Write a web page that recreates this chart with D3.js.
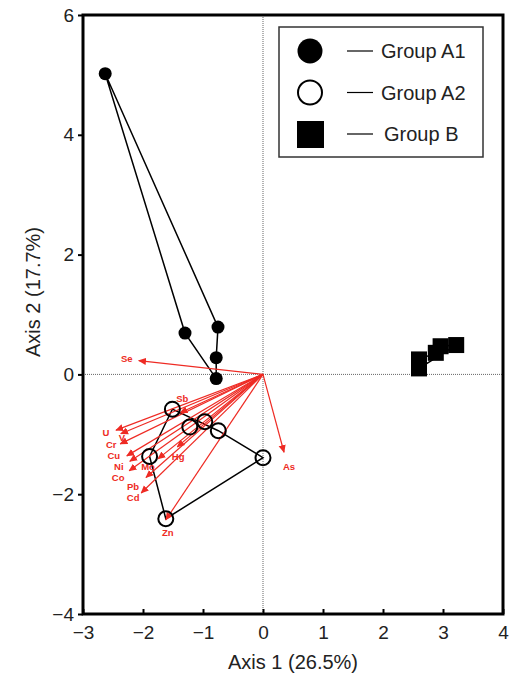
<!DOCTYPE html>
<html>
<head>
<meta charset="utf-8">
<script src="https://cdn.jsdelivr.net/npm/d3@7"></script>
<style>
  body { margin: 0; background: #fff; }
  svg text { font-family: "Liberation Sans", Arial, sans-serif; }
</style>
</head>
<body>
<svg id="chart" width="510" height="676"></svg>
<script>
// DATA ---------------------------------------------------------------------------------------------
var xTicks = [-3, -2, -1, 0, 1, 2, 3, 4];
var yTicks = [-4, -2, 0, 2, 4, 6];

// Group A1 (filled circles), hull order
var groupA1X = [-2.63, -0.75, -0.78, -0.78, -1.30];
var groupA1Y = [ 5.02,  0.79,  0.28, -0.07,  0.69];

// Group A2 (open circles), hull order first, inner points last
var groupA2X = [-1.51, -0.745, 0.00, -1.62, -1.89, -0.97, -1.22];
var groupA2Y = [-0.58, -0.94, -1.39, -2.41, -1.37, -0.79, -0.88];
var groupA2Hull = 5;

// Group B (squares)
var groupBX = [2.60, 2.60, 2.88, 2.96, 3.22];
var groupBY = [0.10, 0.25, 0.36, 0.47, 0.49];

// Variable vectors (arrow tips)
var varNames = ["Se", "Sb", "U", "V", "Cr", "Cu", "Ni", "Co", "Mo", "Pb", "Cd", "Hg", "Zn", "As"];
var varX = [-2.07, -1.38, -2.45, -2.37, -2.38, -2.27, -2.22, -2.23, -1.75, -1.95, -2.03, -1.43, -1.62, 0.35];
var varY = [ 0.23, -0.64, -0.93, -0.99, -1.16, -1.36, -1.45, -1.61, -1.41, -1.72, -1.98, -1.21, -2.43, -1.30];

var legendLabels = ["Group A1", "Group A2", "Group B"];

// SETUP --------------------------------------------------------------------------------------------
var svg = d3.select("#chart");
var red = "#ee2b24";

var x = d3.scaleLinear().domain([-3, 4]).range([83, 503]);
var y = d3.scaleLinear().domain([-4, 6]).range([614, 15]);

// dotted zero lines
svg.append("line")
  .attr("x1", x(0)).attr("x2", x(0)).attr("y1", y(6)).attr("y2", y(-4))
  .attr("stroke", "#666").attr("stroke-width", 1).attr("stroke-dasharray", "1,1");
svg.append("line")
  .attr("x1", x(-3)).attr("x2", x(4)).attr("y1", y(0)).attr("y2", y(0))
  .attr("stroke", "#666").attr("stroke-width", 1).attr("stroke-dasharray", "1,1");

// axes
var xAxis = d3.axisBottom(x).tickValues(xTicks).tickSizeInner(-5).tickSizeOuter(0).tickPadding(12)
  .tickFormat(function(d) { return d < 0 ? "\u2212" + Math.abs(d) : d; });
var yAxis = d3.axisLeft(y).tickValues(yTicks).tickSizeInner(5).tickSizeOuter(0).tickPadding(4)
  .tickFormat(function(d) { return d < 0 ? "\u2212" + Math.abs(d) : d; });

var gx = svg.append("g").attr("transform", "translate(0," + y(-4) + ")").call(xAxis);
var gy = svg.append("g").attr("transform", "translate(" + x(-3) + ",0)").call(yAxis);
[gx, gy].forEach(function(g) {
  g.select(".domain").remove();
  g.selectAll(".tick line").attr("stroke", "#000").attr("stroke-width", 2);
  g.selectAll(".tick text").attr("fill", "#222").style("font-size", "19px");
});

// frame
svg.append("rect")
  .attr("x", x(-3)).attr("y", y(6))
  .attr("width", x(4) - x(-3)).attr("height", y(-4) - y(6))
  .attr("fill", "none").attr("stroke", "#000").attr("stroke-width", 3);

// axis titles
svg.append("text")
  .attr("x", (x(-3) + x(4)) / 2).attr("y", 669)
  .attr("text-anchor", "middle").attr("fill", "#222").style("font-size", "20px")
  .text("Axis 1 (26.5%)");
svg.append("text")
  .attr("transform", "translate(40,292) rotate(-90)")
  .attr("text-anchor", "middle").attr("fill", "#222").style("font-size", "20px")
  .text("Axis 2 (17.7%)");

// HULLS ------------------------------------------------------------------------------------------
function hullPath(xs, ys, n) {
  var pts = [];
  for (var i = 0; i < n; i++) pts.push([x(xs[i]), y(ys[i])]);
  return "M" + pts.join("L") + "Z";
}
svg.append("path").attr("d", hullPath(groupA1X, groupA1Y, groupA1X.length))
  .attr("fill", "none").attr("stroke", "#000").attr("stroke-width", 1.5);
svg.append("path").attr("d", hullPath(groupA2X, groupA2Y, groupA2Hull))
  .attr("fill", "none").attr("stroke", "#000").attr("stroke-width", 1.5);
svg.append("path").attr("d", hullPath(groupBX, groupBY, groupBX.length))
  .attr("fill", "none").attr("stroke", "#000").attr("stroke-width", 1.5);

// ARROWS -----------------------------------------------------------------------------------------
svg.append("defs").append("marker")
  .attr("id", "head").attr("viewBox", "0 0 10 10")
  .attr("refX", 9).attr("refY", 5)
  .attr("markerWidth", 8).attr("markerHeight", 8)
  .attr("markerUnits", "userSpaceOnUse")
  .attr("orient", "auto")
  .append("path").attr("d", "M0,0.5L10,5L0,9.5Z").attr("fill", red);

var vars = varNames.map(function(n, i) { return { name: n, x: varX[i], y: varY[i] }; });

svg.selectAll(".vec").data(vars).enter().append("line")
  .attr("class", "vec")
  .attr("x1", x(0)).attr("y1", y(0))
  .attr("x2", function(d) { return x(d.x); })
  .attr("y2", function(d) { return y(d.y); })
  .attr("stroke", red).attr("stroke-width", 1.2)
  .attr("marker-end", "url(#head)");

// label offsets from arrow tip (pixels)
var labelOffset = {
  Se: [-12, -2], Sb: [2, -14], U: [-10, 3], V: [1, 4], Cr: [-9, 1], Cu: [-13, 0],
  Ni: [-11, 5.5], Co: [-11, 7], Mo: [-10, 8], Pb: [-13, 9], Cd: [-8, 5], Hg: [1, 10],
  Zn: [2, 13], As: [5, 14]
};
svg.selectAll(".vlab").data(vars).enter().append("text")
  .attr("class", "vlab")
  .attr("x", function(d) { return x(d.x) + labelOffset[d.name][0]; })
  .attr("y", function(d) { return y(d.y) + labelOffset[d.name][1]; })
  .attr("dy", "0.35em")
  .attr("text-anchor", "middle")
  .attr("fill", red).style("font-size", "9.5px").style("font-weight", "bold")
  .text(function(d) { return d.name; });

// POINTS -----------------------------------------------------------------------------------------
svg.selectAll(".a1").data(groupA1X).enter().append("circle")
  .attr("class", "a1")
  .attr("cx", function(d) { return x(d); })
  .attr("cy", function(d, i) { return y(groupA1Y[i]); })
  .attr("r", 6.5).attr("fill", "#000");

svg.selectAll(".a2").data(groupA2X).enter().append("circle")
  .attr("class", "a2")
  .attr("cx", function(d) { return x(d); })
  .attr("cy", function(d, i) { return y(groupA2Y[i]); })
  .attr("r", 7.5).attr("fill", "none").attr("stroke", "#000").attr("stroke-width", 2);

svg.selectAll(".b").data(groupBX).enter().append("rect")
  .attr("class", "b")
  .attr("x", function(d) { return x(d) - 8; })
  .attr("y", function(d, i) { return y(groupBY[i]) - 8; })
  .attr("width", 16).attr("height", 16).attr("fill", "#000");

// LEGEND -----------------------------------------------------------------------------------------
var legend = svg.append("g");
legend.append("rect")
  .attr("x", 279).attr("y", 27).attr("width", 204).attr("height", 130)
  .attr("fill", "#fff").attr("stroke", "#333").attr("stroke-width", 1.5);

var rowY = d3.scalePoint().domain(legendLabels).range([51, 134]);

legend.append("circle").attr("cx", 310).attr("cy", rowY(legendLabels[0])).attr("r", 12.5).attr("fill", "#000");
legend.append("circle").attr("cx", 310).attr("cy", rowY(legendLabels[1])).attr("r", 12)
  .attr("fill", "none").attr("stroke", "#000").attr("stroke-width", 2);
legend.append("rect").attr("x", 297).attr("y", rowY(legendLabels[2]) - 13).attr("width", 27).attr("height", 27).attr("fill", "#000");

legend.selectAll(".lline").data(legendLabels).enter().append("line")
  .attr("x1", 347).attr("x2", 373)
  .attr("y1", function(d) { return rowY(d); }).attr("y2", function(d) { return rowY(d); })
  .attr("stroke", "#000").attr("stroke-width", 1.2);

legend.selectAll(".ltext").data(legendLabels).enter().append("text")
  .attr("x", function(d, i) { return i == 2 ? 384 : 381; })
  .attr("y", function(d) { return rowY(d); })
  .attr("dy", "0.35em")
  .attr("fill", "#222").style("font-size", "20px")
  .text(function(d) { return d; });
</script>
</body>
</html>
